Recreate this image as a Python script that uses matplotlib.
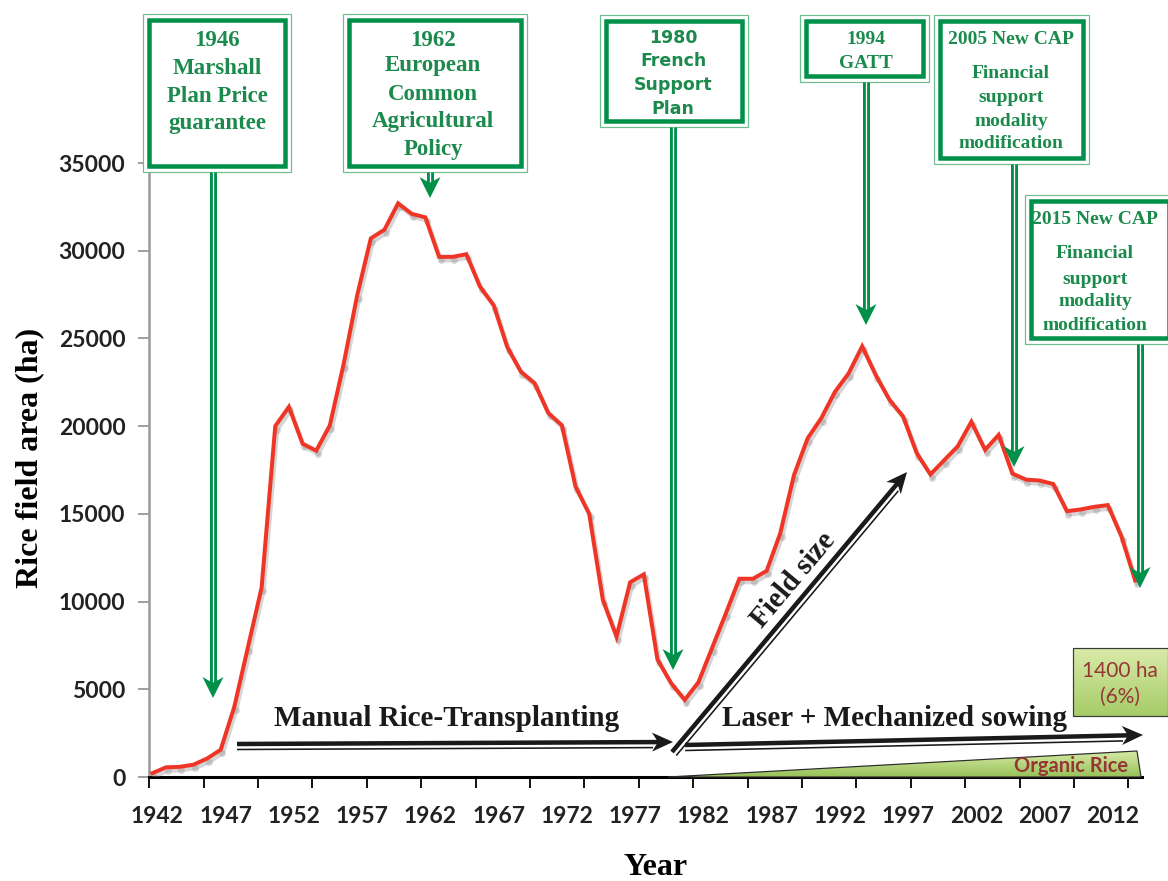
import numpy as np
import matplotlib
matplotlib.use("Agg")
import matplotlib.pyplot as plt
from matplotlib.patches import Rectangle, Polygon
import matplotlib.patheffects as pe
import matplotlib.transforms as mtransforms

# Rice field area (ha) per year
years = list(range(1942, 2015))
area_ha = [
    220, 550, 580, 700, 1050, 1550, 4000, 7400, 10800, 20000,          # 1942-1951
    21100, 19000, 18600, 20050, 23500, 27450, 30700, 31200, 32700, 32100,  # 1952-1961
    31900, 29650, 29650, 29800, 27950, 26900, 24500, 23100, 22450, 20750,  # 1962-1971
    20050, 16550, 15000, 10100, 8000, 11100, 11550, 6700, 5350, 4400,      # 1972-1981
    5400, 7350, 9300, 11300, 11300, 11750, 13900, 17200, 19300, 20450,     # 1982-1991
    21950, 23000, 24550, 22900, 21500, 20550, 18450, 17250, 18050, 18850,  # 1992-2001
    20250, 18650, 19500, 17300, 16950, 16900, 16700, 15150, 15250, 15400,  # 2002-2011
    15500, 13700, 11200,                                                   # 2012-2014
]
year_labels = list(range(1942, 2013, 5))
y_ticks = list(range(0, 35001, 5000))

# policy events: box text lines
event_texts = [
    ["1946", "Marshall", "Plan Price", "guarantee"],
    ["1962", "European", "Common", "Agricultural", "Policy"],
    ["1980", "French", "Support", "Plan"],
    ["1994", "GATT"],
    ["2005 New CAP", "Financial", "support", "modality", "modification"],
    ["2015 New CAP", "Financial", "support", "modality", "modification"],
]

W, H = 1168, 881
GREEN = "#00904a"
GREEN_TXT = "#1b8a4c"
RED = "#ef3626"
DARKRED = "#953735"
PX = 0.72  # points per pixel at dpi 100

fig = plt.figure(figsize=(W / 100, H / 100), dpi=100)
ax = fig.add_axes([149 / W, (H - 777) / H, (1142 - 149) / W, (777 - 163) / H])

# white markers with a soft shadow at each yearly point (as in the original)
shift = mtransforms.offset_copy(ax.transData, fig=fig, x=1.5, y=-3.5, units="dots")
ax.plot(years, area_ha, ls="none", marker="o", ms=5, mfc="#d9d9d9", mec="none",
        transform=shift, zorder=2)
ax.plot(years, area_ha, color=RED, lw=4 * PX, zorder=3, solid_joinstyle="miter",
        path_effects=[pe.SimpleLineShadow(offset=(1.5, -2.5), shadow_color="#888888", alpha=0.35),
                      pe.Normal()])

ax.set_xlim(1941.75, 2014.5)
ax.set_ylim(0, 35000)
ax.set_xticks(year_labels)
ax.set_xticklabels([str(y) for y in year_labels])
ax.set_xticks(np.arange(1941.77, 2014.6, 3.985), minor=True)
ax.set_yticks(y_ticks)
ax.set_yticklabels([str(v) for v in y_ticks])
ax.tick_params(axis="x", which="major", length=0, pad=21)
ax.tick_params(axis="x", which="minor", length=8, width=1.3, color="black", direction="out")
ax.tick_params(axis="y", length=8, width=1.3, color="#999999", pad=9)
lab_shift = mtransforms.ScaledTranslation(5 / 100, 0, fig.dpi_scale_trans)
for lab in ax.get_xticklabels():
    lab.set_transform(lab.get_transform() + lab_shift)
for lab in ax.get_xticklabels() + ax.get_yticklabels():
    lab.set_fontfamily("Lato")
    lab.set_fontweight("bold")
    lab.set_fontsize(16.5)
    lab.set_color("#222222")
for s in ["top", "right"]:
    ax.spines[s].set_visible(False)
ax.spines["left"].set_color("#999999")
ax.spines["left"].set_linewidth(1.8)
ax.spines["bottom"].set_color("black")
ax.spines["bottom"].set_linewidth(2.2)

ax.set_xlabel("Year", family="Liberation Serif", fontweight="bold", fontsize=23, va="center")
ax.xaxis.set_label_coords(0.51, -0.148)
ax.set_ylabel("Rice field area (ha)", family="Liberation Serif", fontweight="bold", fontsize=23,
              va="center")
ax.yaxis.set_label_coords(-0.12, 0.52)

# overlay in image pixel coordinates for annotations
ov = fig.add_axes([0, 0, 1, 1], zorder=5)
ov.set_xlim(0, W)
ov.set_ylim(H, 0)
ov.set_facecolor("none")
ov.axis("off")


def green_box(x0, y0, x1, y1):
    ov.add_patch(Rectangle((x0, y0), x1 - x0, y1 - y0, fill=True, fc="white",
                           ec="#6cbf8a", lw=1.2 * PX, zorder=4))
    ov.add_patch(Rectangle((x0 + 6, y0 + 6), x1 - x0 - 12, y1 - y0 - 12, fill=False,
                           ec=GREEN, lw=4.5 * PX, zorder=5))


def green_arrow(x, y0, tip):
    ov.plot([x, x], [y0, tip - 12], color=GREEN, lw=7 * PX, solid_capstyle="butt", zorder=4)
    ov.plot([x, x], [y0, tip - 16], color="white", lw=1.3 * PX, solid_capstyle="butt", zorder=4)
    ov.add_patch(Polygon([(x, tip), (x - 10.5, tip - 21), (x, tip - 15), (x + 10.5, tip - 21)],
                         closed=True, fc=GREEN, ec="none", zorder=4))


def black_arrow(p0, p1):
    p0 = np.array(p0, float)
    p1 = np.array(p1, float)
    u = (p1 - p0) / np.hypot(*(p1 - p0))
    n = np.array([-u[1], u[0]])
    a = p1 - u * 14
    ov.plot([p0[0], a[0]], [p0[1], a[1]], color="#1a1a1a", lw=4.5 * PX, solid_capstyle="butt", zorder=4)
    b0 = p0 + n * 5.5
    b1 = p1 - u * 20 + n * 5.5
    ov.plot([b0[0], b1[0]], [b0[1], b1[1]], color="#1a1a1a", lw=1.6 * PX, solid_capstyle="butt", zorder=4)
    head = [p1, p1 - u * 21 + n * 9.5, p1 - u * 15, p1 - u * 21 - n * 9.5]
    ov.add_patch(Polygon(head, closed=True, fc="#1a1a1a", ec="none", zorder=4))


def gradient_patch(poly, c_top, c_bot, ec):
    xs = [p[0] for p in poly]
    ys = [p[1] for p in poly]
    grad = np.linspace(0, 1, 64).reshape(-1, 1)
    cmap = matplotlib.colors.LinearSegmentedColormap.from_list("g", [c_top, c_bot])
    im = ov.imshow(grad, cmap=cmap, aspect="auto", extent=[min(xs), max(xs), max(ys), min(ys)],
                   origin="upper", zorder=3, interpolation="bilinear")
    patch = Polygon(poly, closed=True, fc="none", ec=ec, lw=1.2 * PX, zorder=3.5)
    ov.add_patch(patch)
    im.set_clip_path(patch)


# box layout (image pixels)
boxes = [
    (143, 14, 291, 172),
    (343, 14, 527, 172),
    (600, 15, 748, 127),
    (800, 15, 929, 82),
    (934, 15, 1089, 164),
    (1025, 195, 1175, 344),
]
text_x = [217, 433, 673, 866, 1011, 1095]
text_y = [
    [41, 68, 96, 123],
    [41, 66, 94, 121, 149],
    [38, 61, 85, 109],
    [40, 63],
    [39, 73, 98, 121, 143],
    [219, 254, 279, 302, 325],
]
text_size = [16.5, 16.5, 12.5, 14, 14, 14]
arrows = [(213, 172, 698), (430, 172, 198), (673, 127, 670), (866, 82, 325),
          (1014, 164, 467), (1140, 344, 588)]

for i, (x0, y0, x1, y1) in enumerate(boxes):
    green_box(x0, y0, x1, y1)
    ax_x, a0, tip = arrows[i]
    green_arrow(ax_x, a0, tip)
    fam = "DejaVu Sans" if i == 2 else "Liberation Serif"
    for line, ty in zip(event_texts[i], text_y[i]):
        ov.text(text_x[i], ty, line, ha="center", va="center", family=fam, fontweight="bold",
                fontsize=text_size[i], color=GREEN_TXT, zorder=6)

# technology arrows
black_arrow((237, 744), (673, 742))
black_arrow((685, 745), (1143, 735))
black_arrow((672, 752), (907, 472))
ov.text(447, 718, "Manual Rice-Transplanting", ha="center", va="center", family="Liberation Serif",
        fontweight="bold", fontsize=21, color="#1a1a1a", zorder=6)
ov.text(895, 718, "Laser + Mechanized sowing", ha="center", va="center", family="Liberation Serif",
        fontweight="bold", fontsize=21, color="#1a1a1a", zorder=6)
ov.text(793, 580, "Field size", ha="center", va="center", rotation=50, rotation_mode="anchor",
        family="Liberation Serif", fontweight="bold", fontsize=21, color="#1a1a1a", zorder=6)

# organic rice wedge and label box
gradient_patch([(668, 777), (1137, 751), (1141, 777)], "#d6e9a4", "#98c259", "#2b2b2b")
ov.text(1071, 766, "Organic Rice", ha="center", va="center", family="Lato", fontweight="bold",
        fontsize=14.5, color=DARKRED, zorder=6)
gradient_patch([(1073, 648), (1168, 648), (1168, 716), (1073, 716)], "#d9eaa9", "#a6cc68", "#3a3a3a")
ov.text(1120, 671, "1400 ha", ha="center", va="center", family="Lato", fontsize=15,
        color=DARKRED, zorder=6)
ov.text(1120, 697, "(6%)", ha="center", va="center", family="Lato", fontsize=15,
        color=DARKRED, zorder=6)
ov.set_xlim(0, W)
ov.set_ylim(H, 0)

fig.savefig("out.png", dpi=100)
